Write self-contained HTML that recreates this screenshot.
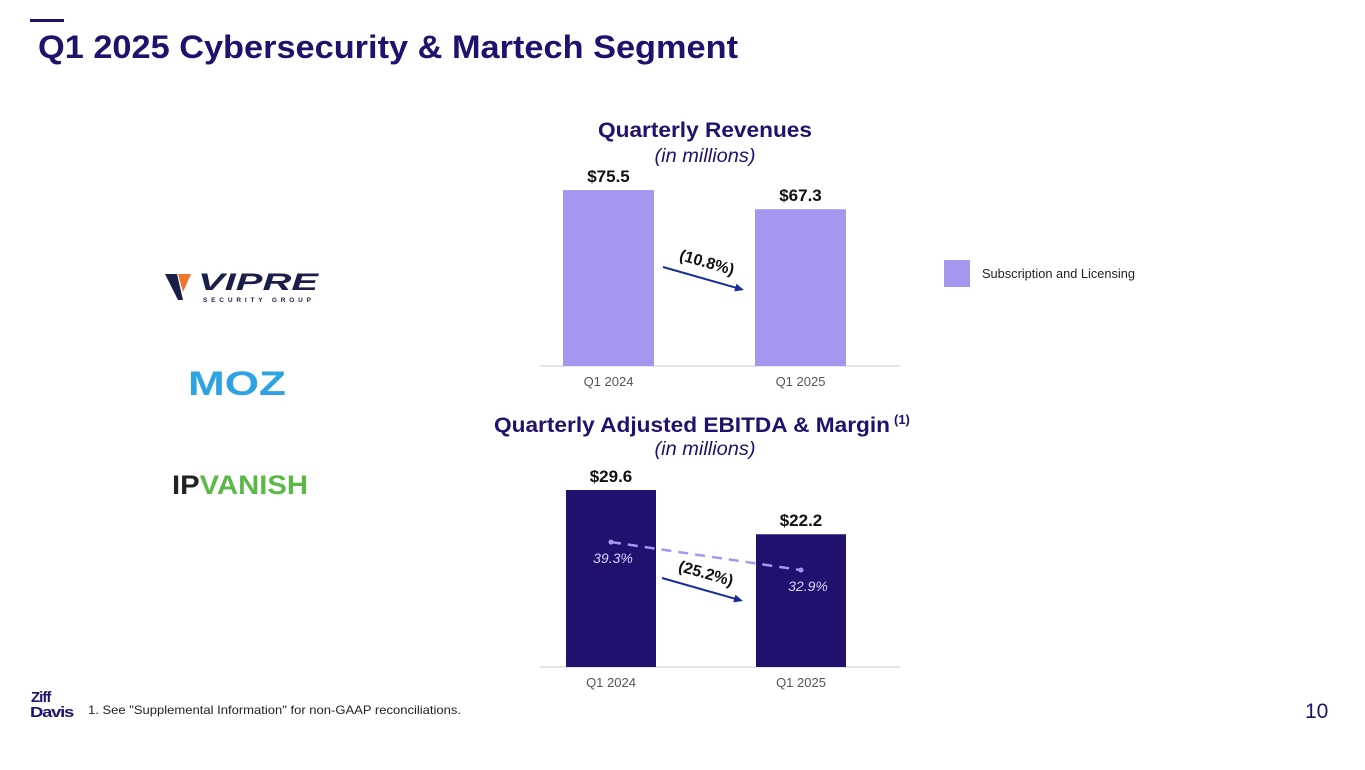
<!DOCTYPE html>
<html><head><meta charset="utf-8"><style>
body{margin:0;width:1365px;height:770px;background:#fff;font-family:"Liberation Sans",sans-serif;overflow:hidden}
svg{position:absolute;left:0;top:0}
</style></head><body>
<svg width="1365" height="770">
<rect x="30" y="19" width="34" height="3" fill="#21106e"/>
<text x="38" y="58" font-size="32" font-weight="bold" fill="#21106e" textLength="700" lengthAdjust="spacingAndGlyphs">Q1 2025 Cybersecurity &amp; Martech Segment</text>
<g>
<polygon points="165,274 177,274 183,300 178,300" fill="#1a1f4a"/>
<polygon points="178,274 191,274 183,292" fill="#f0752a"/>
<text x="198" y="290" font-size="24" font-weight="bold" font-style="italic" fill="#1a1f4a" textLength="120" lengthAdjust="spacingAndGlyphs">VIPRE</text>
<text x="203" y="302" font-size="6.5" font-weight="bold" fill="#1a1f4a" textLength="108" lengthAdjust="spacing">SECURITY GROUP</text>
</g>
<text x="188" y="395" font-size="34" font-weight="bold" fill="#2ea3e3" textLength="98" lengthAdjust="spacingAndGlyphs">MOZ</text>
<text x="172" y="494" font-size="27" font-weight="bold" textLength="136" lengthAdjust="spacingAndGlyphs"><tspan fill="#222">IP</tspan><tspan fill="#5cb947">VANISH</tspan></text>
<text x="705" y="137" font-size="21" font-weight="bold" fill="#21106e" text-anchor="middle" textLength="214" lengthAdjust="spacingAndGlyphs">Quarterly Revenues</text>
<text x="705" y="162" font-size="19" font-style="italic" fill="#21106e" text-anchor="middle" textLength="101" lengthAdjust="spacingAndGlyphs">(in millions)</text>
<text x="494" y="432" font-size="21" font-weight="bold" fill="#21106e"><tspan textLength="396" lengthAdjust="spacingAndGlyphs">Quarterly Adjusted EBITDA &amp; Margin</tspan><tspan font-size="13" dx="4" dy="-8">(1)</tspan></text>
<text x="705" y="455" font-size="19" font-style="italic" fill="#21106e" text-anchor="middle" textLength="101" lengthAdjust="spacingAndGlyphs">(in millions)</text>
<g id="c1"></g><g id="c2"></g>
<rect x="944" y="260" width="26" height="27" fill="#a497ef"/>
<text x="982" y="278" font-size="13" fill="#222" textLength="153" lengthAdjust="spacingAndGlyphs">Subscription and Licensing</text>
<g>
<text x="31" y="702" font-size="15" font-weight="bold" fill="#21106e" letter-spacing="-1">Ziff</text>
<text x="30" y="717" font-size="15" font-weight="bold" fill="#21106e" letter-spacing="-1" textLength="43" lengthAdjust="spacingAndGlyphs">Davis</text>
</g>
<text x="88" y="714" font-size="12" fill="#222" textLength="373" lengthAdjust="spacingAndGlyphs">1.  See "Supplemental Information" for non-GAAP reconciliations.</text>
<text x="1305" y="718" font-size="21" fill="#21106e">10</text>
</svg>
<script>
const categories=["Q1 2024","Q1 2025"];
const revenues=[75.5,67.3];
const ebitda=[29.6,22.2];
const margins=[39.3,32.9];
const revChange="(10.8%)";
const ebitdaChange="(25.2%)";
const NS="http://www.w3.org/2000/svg";
function mk(p,t,a,txt){const e=document.createElementNS(NS,t);for(const k in a)e.setAttribute(k,a[k]);if(txt!=null)e.textContent=txt;p.appendChild(e);return e;}
function draw(g,vals,base,scale,xs,bw,color,prefix){
  mk(g,'line',{x1:540,x2:900,y1:base,y2:base,stroke:'#ccc','stroke-width':1});
  vals.forEach((v,i)=>{
    const h=v*scale;
    const r=mk(g,'rect',{x:xs[i]-bw/2,y:base-h,width:bw,height:h,fill:color});
    
    
    const t=mk(g,'text',{x:xs[i],y:base-h-8,'font-size':17,'font-weight':'bold','text-anchor':'middle',fill:'#111'},'$'+v.toFixed(1));
    
    
    const c=mk(g,'text',{x:xs[i],y:base+20,'font-size':13,'text-anchor':'middle',fill:'#555'},categories[i]);
    
    
  });
}
function arrow(g,x1,y1,x2,y2,label){
  const ang=Math.atan2(y2-y1,x2-x1)*180/Math.PI;
  mk(g,'line',{x1:x1,y1:y1,x2:x2-6,y2:y2-1.7,stroke:'#1b2a99','stroke-width':2});
  mk(g,'polygon',{points:`0,0 -9,-4 -9,4`,fill:'#1b2a99',transform:`translate(${x2},${y2}) rotate(${ang})`});
  const t=mk(g,'text',{x:0,y:0,'font-size':16,'font-weight':'bold','text-anchor':'middle',fill:'#111',transform:`translate(${(x1+x2)/2+2},${(y1+y2)/2-11}) rotate(${ang})`},label);
  
  
}
const g1=document.getElementById('c1');


draw(g1,revenues,366,2.33,[608.5,800.5],91,'#a497ef','revenue');
arrow(g1,663,267,744,290,revChange);
const g2=document.getElementById('c2');


draw(g2,ebitda,667,5.98,[611,801],90,'#21106e','ebitda');
const my=v=>714-v*4.375;
const mx=[611,801];
const ml=mk(g2,'line',{x1:mx[0],y1:my(margins[0]),x2:mx[1],y2:my(margins[1]),stroke:'#a497ef','stroke-width':2.5,'stroke-dasharray':'10,7'});


margins.forEach((m,i)=>{
  mk(g2,'circle',{cx:mx[i],cy:my(m),r:2.5,fill:'#a497ef'});
  const t=mk(g2,'text',{x:mx[i]+(i?7:2),y:my(m)+21,'font-size':14,'font-style':'italic','text-anchor':'middle',fill:'#d8d4ff'},m.toFixed(1)+'%');
  
  
});
arrow(g2,662,578,743,601,ebitdaChange);
</script>
</body></html>
